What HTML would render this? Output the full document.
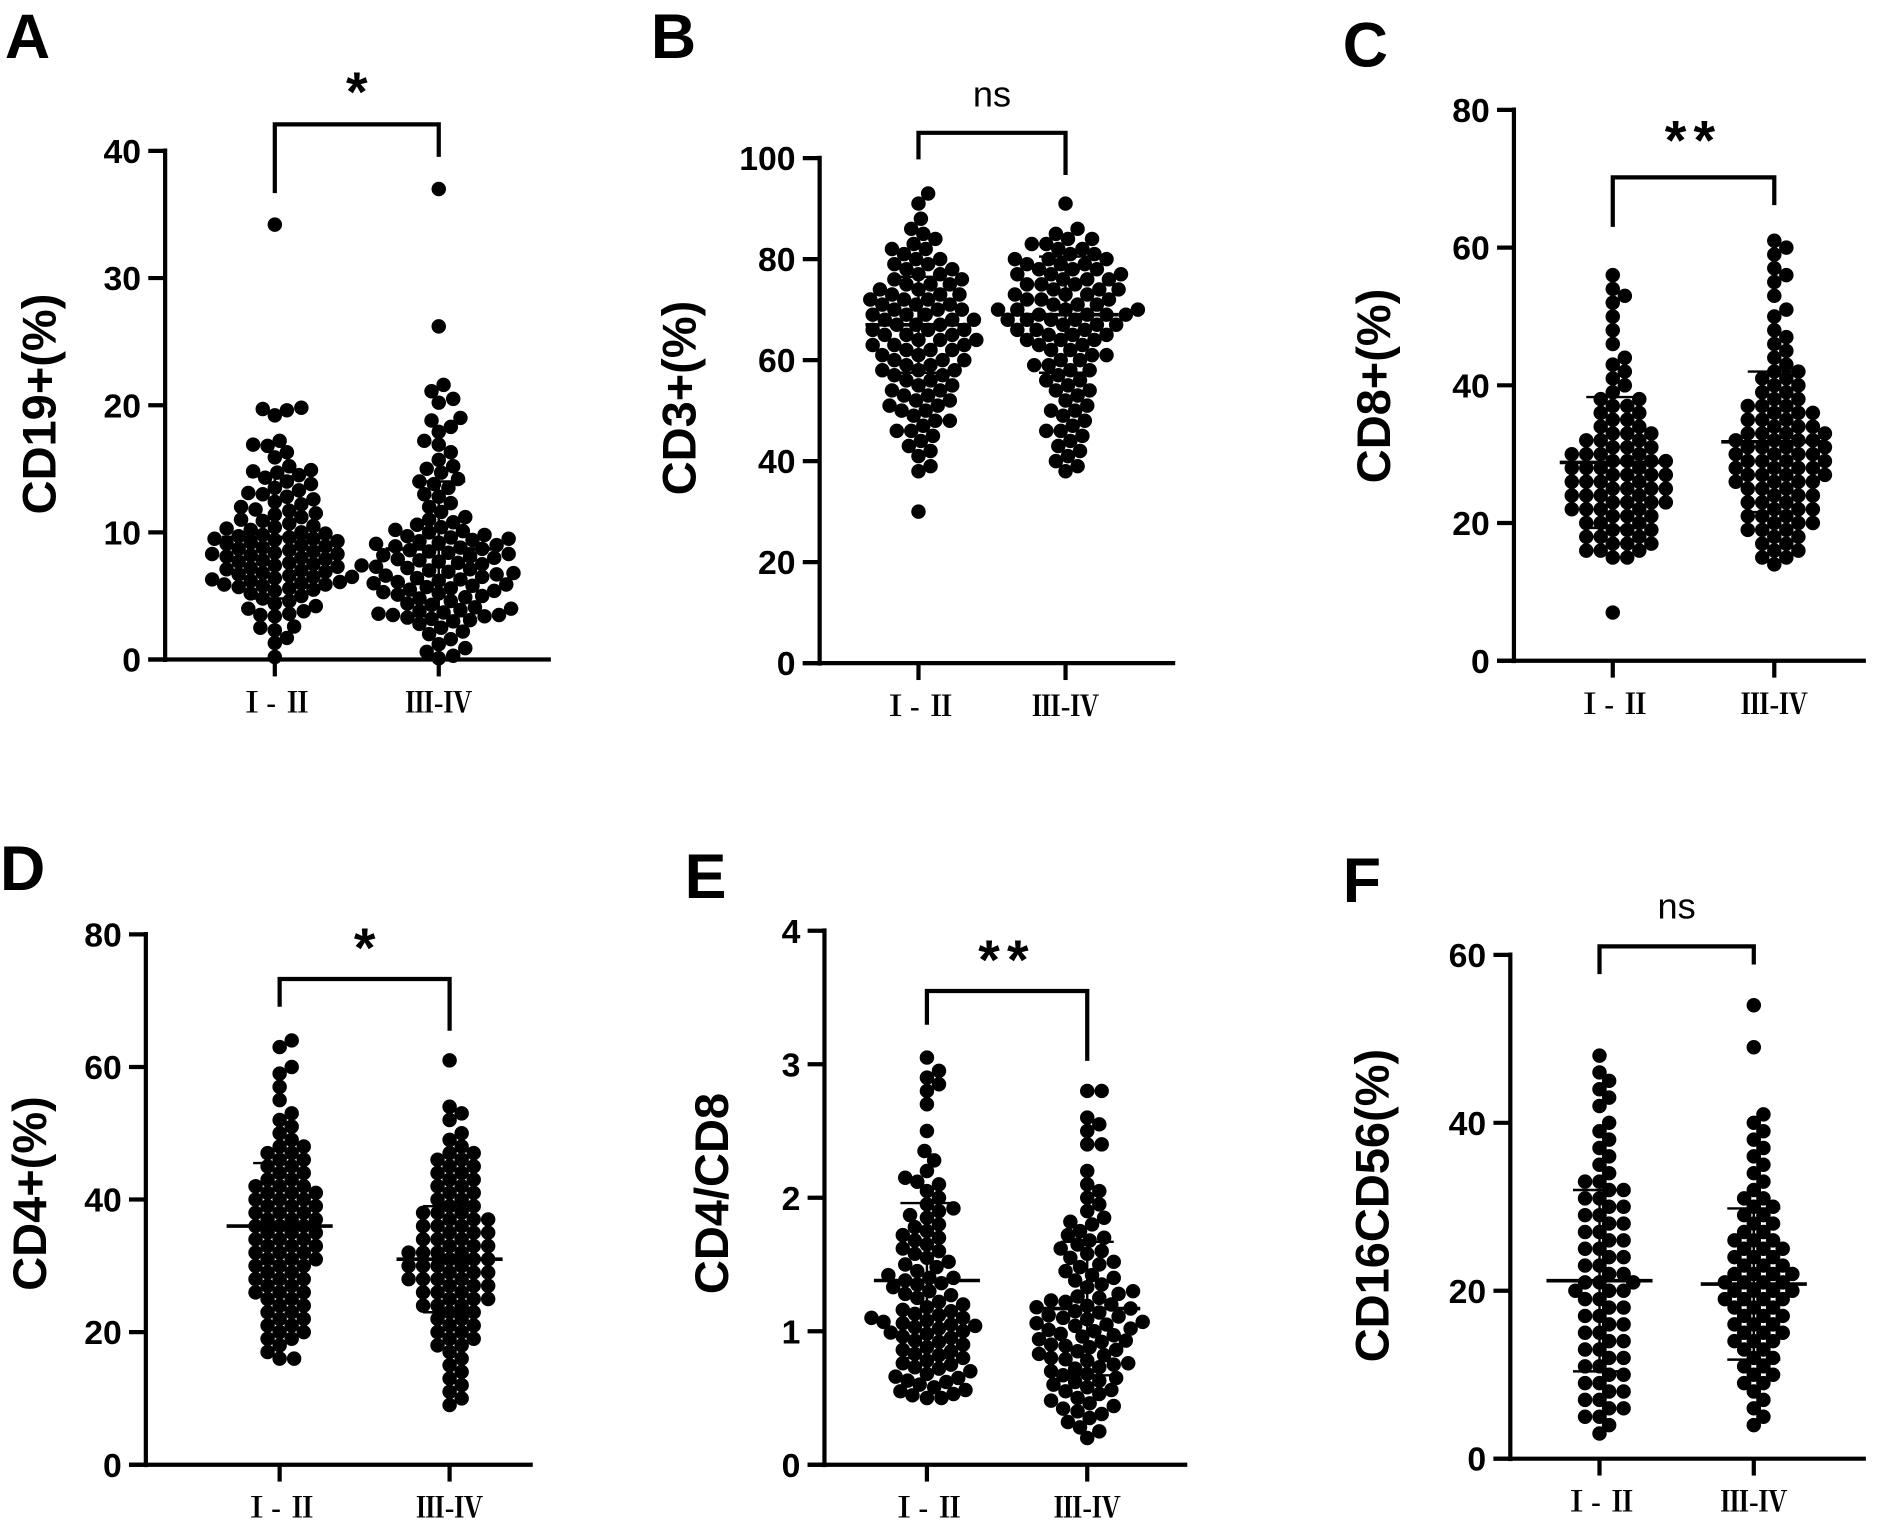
<!DOCTYPE html>
<html><head><meta charset="utf-8"><style>
html,body{margin:0;padding:0;background:#fff;}
svg{display:block;}
text{font-family:"Liberation Sans",Arial,sans-serif;}
.cat{font-family:"Liberation Serif","Noto Serif CJK SC",serif;}
</style></head><body>
<svg id="fig" width="1890" height="1524" viewBox="0 0 1568 1264" xmlns="http://www.w3.org/2000/svg"></svg>
<script>
// ---------- data ----------
const categories = ["Ⅰ- Ⅱ", "Ⅲ-Ⅳ"];
const panelLetters = ["A","B","C","D","E","F"];
const yTitles = ["CD19+(%)","CD3+(%)","CD8+(%)","CD4+(%)","CD4/CD8","CD16CD56(%)"];
const sigLabels = ["*","ns","**","*","**","ns"];
const tickA = [0,10,20,30,40];
const tickB = [0,20,40,60,80,100];
const tickC = [0,20,40,60,80];
const tickD = [0,20,40,60,80];
const tickE = [0,1,2,3,4];
const tickF = [0,20,40,60];
const meanA = [9.6, 8.7], sdA = [4.8, 5.3];
const meanB = [67, 69], sdB = [9.5, 11.5];
const meanC = [28.8, 31.8], sdC = [9.5, 10.2];
const meanD = [36, 31], sdD = [9.5, 8];
const meanE = [1.38, 1.17], sdE = [0.58, 0.5];
const meanF = [21.2, 20.8], sdF = [10.8, 9];
const A1 = [34.2,19.8,19.7,19.6,19.2,17.2,16.9,16.8,16.3,15.9,15.2,14.9,14.8,14.7,14.5,14.3,14.0,13.8,13.5,13.3,13.1,13.0,12.8,12.6,12.4,12.2,12.0,11.8,11.7,11.5,11.4,11.2,11.0,10.9,10.7,10.5,10.4,10.3,10.2,10.0,9.9,9.8,9.7,9.6,9.5,9.5,9.4,9.3,9.2,9.1,9.0,8.9,8.8,8.7,8.6,8.5,8.4,8.3,8.3,8.2,8.1,8.0,7.9,7.8,7.7,7.6,7.5,7.4,7.3,7.2,7.1,7.0,6.9,6.8,6.7,6.6,6.5,6.5,6.4,6.3,6.2,6.1,6.0,5.9,5.9,5.8,5.7,5.6,5.5,5.4,5.2,5.0,4.8,4.6,4.4,4.2,4.0,3.8,3.6,3.5,3.4,2.6,2.5,2.3,1.7,1.3,0.2];
const A2 = [37.0,26.2,21.6,21.1,20.5,20.2,19.0,18.8,18.3,17.9,17.2,16.9,16.3,15.7,15.2,15.0,14.7,14.2,14.0,13.8,13.5,13.0,12.8,12.3,12.0,11.6,11.2,11.0,10.8,10.6,10.4,10.2,10.1,10.0,9.8,9.7,9.6,9.5,9.4,9.3,9.2,9.1,9.0,8.9,8.8,8.7,8.6,8.5,8.4,8.3,8.2,8.1,8.0,7.9,7.8,7.7,7.6,7.5,7.4,7.3,7.2,7.1,7.0,6.9,6.8,6.7,6.6,6.5,6.4,6.3,6.2,6.1,6.0,5.9,5.8,5.7,5.6,5.5,5.4,5.3,5.2,5.1,5.0,4.9,4.8,4.6,4.4,4.3,4.1,4.0,3.9,3.8,3.7,3.6,3.5,3.5,3.4,3.3,3.2,3.1,3.0,2.8,2.5,2.2,2.0,1.6,1.2,0.9,0.6,0.3,0.1];
const B1 = [93,91,88,86,85,84,83,82,82,81,80,80,79,79,78,78,77,77,76,76,75,75,75,74,74,73,73,73,72,72,72,71,71,71,70,70,70,69,69,69,68,68,68,67,67,67,66,66,66,65,65,65,64,64,64,63,63,63,62,62,62,61,61,60,60,60,59,59,58,58,58,57,57,56,56,55,55,54,54,53,53,52,52,51,51,50,50,49,48,48,47,46,46,45,44,43,42,41,39,38,30];
const B2 = [91,86,85,84,84,83,83,82,82,81,81,80,80,80,79,79,79,78,78,78,77,77,77,76,76,76,75,75,75,74,74,74,73,73,73,72,72,72,71,71,71,70,70,70,70,69,69,69,69,68,68,68,68,67,67,67,66,66,66,65,65,65,64,64,64,63,63,62,62,61,61,60,60,59,59,58,58,57,56,56,55,54,54,53,52,51,50,50,49,48,47,46,46,45,44,43,42,41,40,39,38];
const C1 = [56,54,53,52,50,48,46,44,43,42,41,40,39,38,38,37,37,36,36,35,35,34,34,33,33,33,32,32,32,31,31,31,30,30,30,30,29,29,29,29,28,28,28,28,27,27,27,27,26,26,26,26,25,25,25,25,24,24,24,24,23,23,23,23,22,22,22,22,21,21,21,20,20,20,19,19,19,18,18,18,17,17,17,16,16,16,15,15,7];
const C2 = [61,60,59,57,56,55,53,51,50,48,47,46,45,44,43,42,42,41,41,40,40,39,39,38,38,37,37,37,36,36,36,35,35,35,34,34,34,33,33,33,33,32,32,32,32,31,31,31,31,30,30,30,30,29,29,29,29,28,28,28,28,27,27,27,27,26,26,26,26,25,25,25,24,24,24,23,23,23,22,22,22,21,21,21,20,20,20,19,19,19,18,18,17,17,16,16,15,15,14];
const D1 = [64,63,60,59,57,55,53,52,51,50,49,48,48,47,47,46,46,45,45,44,44,43,43,42,42,42,41,41,41,40,40,40,39,39,39,38,38,38,37,37,37,36,36,36,35,35,35,34,34,34,33,33,33,32,32,32,31,31,31,30,30,30,29,29,28,28,28,27,27,26,26,26,25,25,24,24,23,23,22,22,21,21,20,20,19,19,18,17,16,16];
const D2 = [61,54,53,52,50,49,48,47,47,46,46,45,45,44,44,43,43,42,42,41,41,40,40,39,39,38,38,38,37,37,37,36,36,36,35,35,35,34,34,34,33,33,33,32,32,32,32,31,31,31,30,30,30,30,29,29,29,28,28,28,28,27,27,27,26,26,26,25,25,25,24,24,24,23,23,22,22,21,21,20,20,19,19,18,18,17,16,15,14,13,12,11,10,9];
const E1 = [3.05,2.95,2.9,2.85,2.8,2.7,2.5,2.35,2.28,2.2,2.15,2.12,2.1,2.05,2.0,1.95,1.92,1.9,1.87,1.85,1.8,1.78,1.75,1.72,1.7,1.68,1.65,1.62,1.6,1.58,1.55,1.52,1.5,1.48,1.45,1.42,1.4,1.4,1.38,1.36,1.35,1.33,1.3,1.28,1.27,1.25,1.22,1.2,1.18,1.16,1.15,1.13,1.12,1.1,1.1,1.08,1.07,1.06,1.05,1.04,1.03,1.02,1.0,0.99,0.98,0.96,0.95,0.93,0.92,0.9,0.88,0.86,0.85,0.83,0.82,0.8,0.78,0.76,0.75,0.73,0.72,0.7,0.68,0.66,0.65,0.63,0.62,0.6,0.58,0.56,0.55,0.53,0.52,0.5,0.5];
const E2 = [2.8,2.8,2.6,2.55,2.5,2.4,2.4,2.2,2.1,2.05,2.0,1.95,1.9,1.85,1.82,1.8,1.75,1.72,1.7,1.68,1.65,1.62,1.6,1.58,1.55,1.52,1.5,1.48,1.45,1.42,1.4,1.38,1.35,1.33,1.3,1.28,1.26,1.25,1.23,1.22,1.2,1.19,1.18,1.17,1.15,1.14,1.12,1.11,1.1,1.09,1.07,1.06,1.05,1.04,1.02,1.01,1.0,0.98,0.97,0.96,0.94,0.93,0.92,0.9,0.89,0.88,0.86,0.85,0.83,0.82,0.8,0.79,0.78,0.76,0.75,0.73,0.72,0.7,0.68,0.67,0.65,0.63,0.62,0.6,0.58,0.56,0.55,0.53,0.5,0.48,0.46,0.44,0.42,0.4,0.38,0.35,0.32,0.28,0.25,0.2];
const F1 = [48,46,45,44,43,42,40,39,38,37,36,35,34,33,33,32,32,31,31,30,30,29,29,28,28,27,27,26,26,25,25,24,24,23,23,22,22,21,21,21,20,20,20,19,19,18,18,17,17,16,16,15,15,14,14,13,13,12,12,11,11,10,10,9,9,8,8,7,7,6,6,5,5,4,3];
const F2 = [54,49,41,40,39,38,37,36,35,34,33,32,31,31,30,30,29,29,28,28,27,27,26,26,26,25,25,25,24,24,24,23,23,23,22,22,22,22,21,21,21,21,20,20,20,20,19,19,19,19,18,18,18,17,17,17,16,16,16,15,15,15,14,14,14,13,13,12,12,11,11,10,10,9,9,8,7,6,5,4];

// ---------- layout (not data) ----------
const layout = [
 {ax:137,y0:547,yTop:125,xEnd:457,c:[228,364],brTop:103,brL:160,brR:130,sigY:92,sigSize:46,lx:46,ly:335,letterX:4,letterY:48,ticks:tickA,vals:[A1,A2],mean:meanA,sd:sdA},
 {ax:680,y0:550,yTop:131,xEnd:975,c:[762,884],brTop:110,brL:132,brR:145,sigY:88,sigSize:30,lx:577,ly:330,letterX:540,letterY:48,ticks:tickB,vals:[B1,B2],mean:meanB,sd:sdB},
 {ax:1256,y0:548,yTop:91,xEnd:1548,c:[1338,1472],brTop:147,brL:188,brR:170,sigY:132,sigSize:46,lx:1153,ly:320,letterX:1114,letterY:55,ticks:tickC,vals:[C1,C2],mean:meanC,sd:sdC},
 {ax:121,y0:1215,yTop:775,xEnd:442,c:[232,373],brTop:812,brL:835,brR:855,sigY:802,sigSize:46,lx:38,ly:990,letterX:0,letterY:738,ticks:tickD,vals:[D1,D2],mean:meanD,sd:sdD},
 {ax:684,y0:1215,yTop:772,xEnd:985,c:[769,902],brTop:822,brL:850,brR:880,sigY:812,sigSize:46,lx:604,ly:990,letterX:568,letterY:745,ticks:tickE,vals:[E1,E2],mean:meanE,sd:sdE},
 {ax:1253,y0:1210,yTop:792,xEnd:1548,c:[1327,1455],brTop:785,brL:808,brR:800,sigY:762,sigSize:30,lx:1152,ly:1000,letterX:1114,letterY:748,ticks:tickF,vals:[F1,F2],mean:meanF,sd:sdF}
];

const NS = "http://www.w3.org/2000/svg";
const svg = document.getElementById('fig');
function mk(tag, attrs, parent){
  const e = document.createElementNS(NS, tag);
  for (const k in attrs) e.setAttribute(k, attrs[k]);
  (parent||svg).appendChild(e);
  return e;
}

layout.forEach((L, pi) => {
  const g = mk('g', {});
  
  
  const ymax = L.ticks[L.ticks.length-1];
  const yScale = v => L.y0 - (v / ymax) * (L.y0 - L.yTop);

  const lt = mk('text', {x:L.letterX, y:L.letterY, 'font-size':52, 'font-weight':'bold', fill:'#000'}, g);
  lt.textContent = panelLetters[pi];
  
  

  const ya = mk('line', {x1:L.ax, y1:L.yTop-2, x2:L.ax, y2:L.y0+2, stroke:'#000','stroke-width':3.5}, g);
  
  
  const xa = mk('line', {x1:L.ax-14, y1:L.y0, x2:L.xEnd, y2:L.y0, stroke:'#000','stroke-width':3.5}, g);
  
  

  L.ticks.forEach(t => {
    const y = yScale(t);
    mk('line', {x1:L.ax-14, y1:y, x2:L.ax, y2:y, stroke:'#000','stroke-width':3.5}, g);
    const tl = mk('text', {x:L.ax-20, y:y+10, 'font-size':28, 'font-weight':'bold', 'text-anchor':'end', fill:'#000'}, g);
    tl.textContent = t;
    
    
  });

  const yt = mk('text', {x:L.lx, y:L.ly, 'font-size':39, 'font-weight':'bold', 'text-anchor':'middle', fill:'#000', transform:'rotate(-90 '+L.lx+' '+L.ly+')'}, g);
  yt.textContent = yTitles[pi];
  
  

  L.c.forEach((cx, ci) => {
    mk('line', {x1:cx, y1:L.y0, x2:cx, y2:L.y0+14, stroke:'#000','stroke-width':3.5}, g);
    const cl = mk('text', {x:cx, y:L.y0+44, 'font-size':24, 'font-weight':'bold', 'text-anchor':'middle', fill:'#000', 'class':'cat'}, g);
    cl.textContent = categories[ci];
    
    

    const vals = L.vals[ci].slice().sort((a,b)=>a-b);
    const r = 6, d = 10.5;
    const placed = [];
    vals.forEach(v => {
      const y = yScale(v);
      let off = 0;
      for (let k = 0; k < 200; k++) {
        const cand = (k === 0) ? 0 : ((k % 2) ? 1 : -1) * Math.ceil(k/2) * 2;
        const ok = placed.every(p => Math.hypot(p.x - cand, p.y - y) >= d);
        if (ok) { off = cand; break; }
      }
      placed.push({x:off, y:y});
      const dot = mk('circle', {cx:cx+off, cy:y, r:r, fill:'#000'}, g);
      
      
    });

    const m = L.mean[ci], s = L.sd[ci];
    const ml = mk('line', {x1:cx-44, y1:yScale(m), x2:cx+44, y2:yScale(m), stroke:'#000','stroke-width':3}, g);
    
    
    const sl = mk('line', {x1:cx, y1:yScale(m+s), x2:cx, y2:yScale(m-s), stroke:'#000','stroke-width':2}, g);
    
    
    [m+s, m-s].forEach(v => {
      const cap = mk('line', {x1:cx-22, y1:yScale(v), x2:cx+22, y2:yScale(v), stroke:'#000','stroke-width':2}, g);
      
      
    });
  });

  const br = mk('path', {d:'M'+L.c[0]+' '+L.brL+' V'+L.brTop+' H'+L.c[1]+' V'+L.brR, fill:'none', stroke:'#000','stroke-width':3.5}, g);
  
  
  const sg = mk('text', {x:(L.c[0]+L.c[1])/2, y:L.sigY, 'font-size':L.sigSize, 'font-weight':sigLabels[pi]==='ns'?'normal':'bold', 'text-anchor':'middle', fill:'#000', 'letter-spacing':sigLabels[pi]==='**'?6:0}, g);
  sg.textContent = sigLabels[pi];
  
  
});
</script>
</body></html>
